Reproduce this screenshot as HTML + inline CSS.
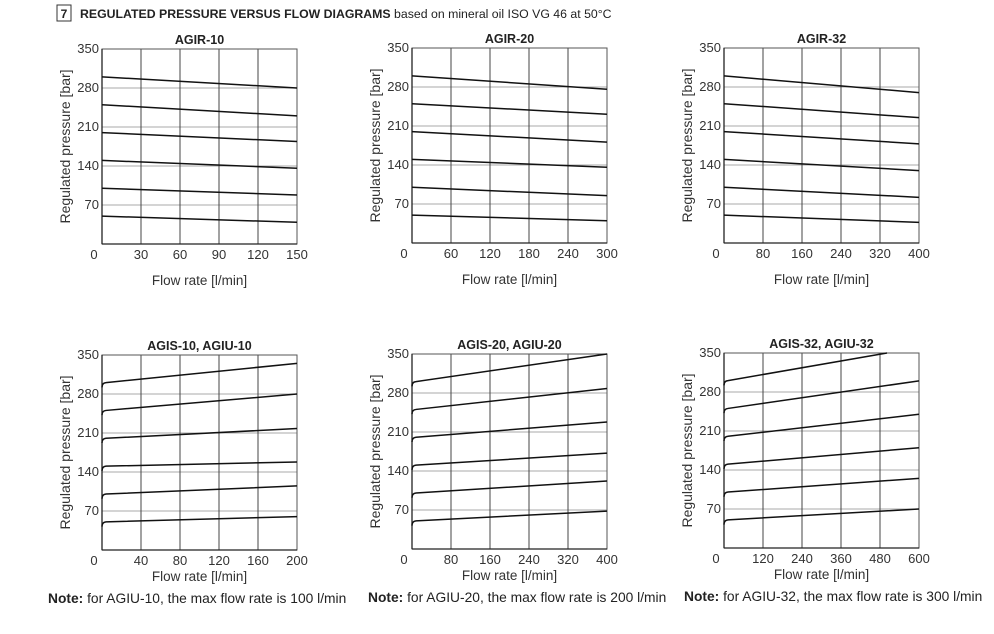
<!DOCTYPE html>
<html><head><meta charset="utf-8"><style>
body{margin:0;background:#fff;}
svg{display:block;font-family:"Liberation Sans",sans-serif;}
</style></head><body>
<svg id="s" width="994" height="634" xmlns="http://www.w3.org/2000/svg">
<rect x="57" y="5" width="14" height="16" fill="none" stroke="#333" stroke-width="1"/>
<text x="64" y="18" font-size="12" font-weight="bold" text-anchor="middle" fill="#222">7</text>
<text x="80" y="18" font-size="12.3" fill="#222"><tspan font-weight="bold">REGULATED PRESSURE VERSUS FLOW DIAGRAMS</tspan> based on mineral oil ISO VG 46 at 50°C</text>
</svg>
<script>
const s=document.getElementById('s');const NS='http://www.w3.org/2000/svg';
function el(t,a,txt){const e=document.createElementNS(NS,t);for(const k in a)e.setAttribute(k,a[k]);if(txt!==undefined)e.textContent=txt;s.appendChild(e);return e;}
const charts=[
{x:102,y:49,t:'AGIR-10',xt:[0,30,60,90,120,150],L:[[300,280],[250,230],[200,184],[150,136],[100,88],[50,39]],up:false},
{x:412,y:48,t:'AGIR-20',xt:[0,60,120,180,240,300],L:[[300,276],[250,231],[200,181],[150,136],[100,85],[50,40]],up:false},
{x:724,y:48,t:'AGIR-32',xt:[0,80,160,240,320,400],L:[[300,270],[250,225],[200,178],[150,130],[100,82],[50,37]],up:false},
{x:102,y:355,t:'AGIS-10, AGIU-10',xt:[0,40,80,120,160,200],L:[[300,335],[250,280],[200,218],[150,158],[100,115],[50,60]],up:true,n:'AGIU-10',m:100,nx:48},
{x:412,y:354,t:'AGIS-20, AGIU-20',xt:[0,80,160,240,320,400],L:[[300,350],[250,288],[200,228],[150,172],[100,122],[50,68]],up:true,n:'AGIU-20',m:200,nx:368},
{x:724,y:353,t:'AGIS-32, AGIU-32',xt:[0,120,240,360,480,600],L:[[300,360],[250,300],[200,240],[150,180],[100,125],[50,70]],up:true,n:'AGIU-32',m:300,nx:684}];
const W=195,H=195;
const NF='"Liberation Sans Narrow","Liberation Sans",sans-serif';
charts.forEach(c=>{
 const X=c.x,Y=c.y,b=Y+H;const py=v=>b-v/350*H;
 el('text',{x:X+W/2,y:Y-5,'font-size':12.5,'font-weight':'bold','text-anchor':'middle',fill:'#222'},c.t);
 for(let i=1;i<5;i++){const v=i*70;el('line',{x1:X,x2:X+W,y1:py(v),y2:py(v),stroke:'#aaa','stroke-width':1});}
 for(let i=1;i<5;i++){const x=X+i*W/5;el('line',{x1:x,x2:x,y1:Y,y2:b,stroke:'#444','stroke-width':1});}
 el('rect',{x:X,y:Y,width:W,height:H,fill:'none',stroke:'#555','stroke-width':1});
 el('line',{x1:X,x2:X,y1:Y,y2:b,stroke:'#222','stroke-width':1.3});
 el('line',{x1:X,x2:X+W,y1:b,y2:b,stroke:'#222','stroke-width':1.3});
 [350,280,210,140,70].forEach(v=>el('text',{x:X-3,y:py(v)+4,'font-size':13,'text-anchor':'end',fill:'#333','font-family':NF},v));
 el('text',{x:X-8,y:b+15,'font-size':13,'text-anchor':'middle',fill:'#333','font-family':NF},'0');
 c.xt.forEach((v,i)=>{if(i)el('text',{x:X+i*W/5,y:b+15,'font-size':13,'text-anchor':'middle',fill:'#333','font-family':NF},v);});
 const ly=c.up?b+31:b+41;
 el('text',{x:X+W/2,y:ly,'font-size':13.5,'text-anchor':'middle',fill:'#333'},'Flow rate [l/min]');
 el('text',{x:0,y:0,'font-size':14,'text-anchor':'middle',fill:'#333',transform:`translate(${X-32},${Y+H/2}) rotate(-90)`},'Regulated pressure [bar]');
 c.L.forEach(([a,e])=>{
  let d;
  if(!c.up){d=`M${X},${py(a)} L${X+W},${py(e)}`;}
  else{
   let xe=X+W,ye=py(e);
   if(e>350){const f=(350-a)/(e-a);xe=X+3+f*(W-3);ye=py(350);}
   d=`M${X},${py(a-8)} Q${X},${py(a)} ${X+4},${py(a+0.5)} L${xe},${ye}`;
  }
  el('path',{d:d,fill:'none',stroke:'#111','stroke-width':1.5});
 });
 if(c.n){const tx=el('text',{x:c.nx,y:b+53,'font-size':13.8,fill:'#222'});
  const b1=document.createElementNS(NS,'tspan');b1.setAttribute('font-weight','bold');b1.textContent='Note:';tx.appendChild(b1);
  const b2=document.createElementNS(NS,'tspan');b2.textContent=` for ${c.n}, the max flow rate is ${c.m} l/min`;tx.appendChild(b2);}
});
</script>
</body></html>
